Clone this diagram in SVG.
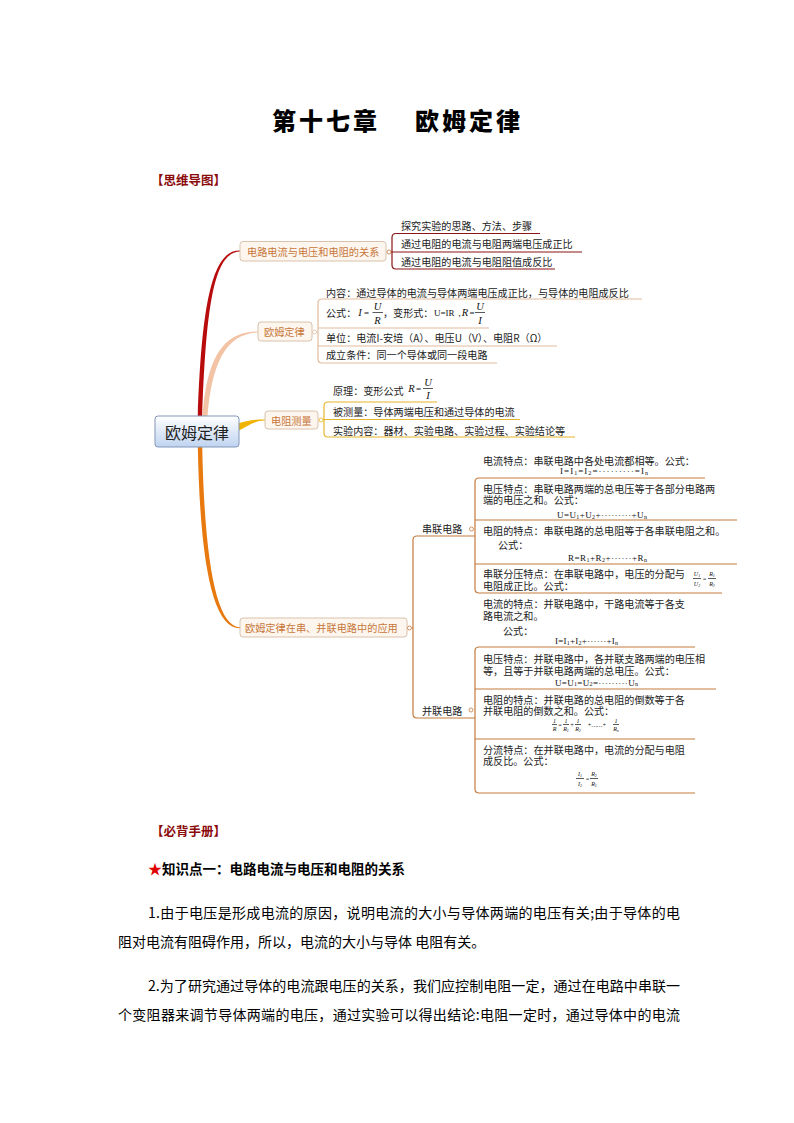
<svg xmlns="http://www.w3.org/2000/svg" width="794" height="1123" viewBox="0 0 794 1123">
<style>
.t{font-family:"Noto Sans CJK SC","Noto Sans",sans-serif;font-size:10.1px;fill:#222;dominant-baseline:central}
.bl{font-family:"Noto Sans CJK SC","Noto Sans",sans-serif;font-size:10.2px;fill:#c8773a;dominant-baseline:central}
.f{font-family:"Liberation Serif",serif;font-size:9px;fill:#111;dominant-baseline:central}
.fi{font-family:"Liberation Serif",serif;font-style:italic;font-size:10.5px;fill:#111;dominant-baseline:central;text-anchor:middle}
.fs{font-family:"Liberation Serif",serif;font-style:italic;font-size:6px;fill:#111;dominant-baseline:central;text-anchor:middle}
.s{font-size:6px}
.box{fill:#fdf6ef;stroke:#d9c2ab;stroke-width:1}
.dot{fill:#fff;stroke-width:0.8}
.br{fill:none;stroke-width:1.2}
.bar{stroke:#111;stroke-width:0.7}
.h{font-family:"Noto Sans CJK SC",sans-serif;font-weight:bold;font-size:12.5px;fill:#8b0a0a;dominant-baseline:central}
.p{font-family:"Noto Sans CJK SC",sans-serif;font-size:14px;fill:#000;dominant-baseline:central}
</style>
<defs>
<linearGradient id="cg" x1="0" y1="0" x2="0" y2="1">
<stop offset="0" stop-color="#ffffff"/>
<stop offset="1" stop-color="#bfd3f0"/>
</linearGradient>
</defs>
<rect width="794" height="1123" fill="#fff"/>

<g id="title">
<text x="272" y="119" font-family="Noto Sans CJK SC,sans-serif" font-weight="900" font-size="24" letter-spacing="3" dominant-baseline="central" fill="#000">第十七章</text>
<text x="415" y="119" font-family="Noto Sans CJK SC,sans-serif" font-weight="900" font-size="24" letter-spacing="3" dominant-baseline="central" fill="#000">欧姆定律</text>
<text class="h" x="151" y="179">【思维导图】</text>
</g>

<g id="connectors">
<path d="M197.8 417 C201.8 300 213 249.8 240 250.5 L240 251.5 C215 252.2 206.2 300 202.2 417 Z" fill="#b80c0c"/>
<path d="M202.5 417 C206.5 358 223 331 258 331.4 L258 332.6 C227 333 211.5 362 207.5 417 Z" fill="#f2c3a4"/>
<path d="M238 423.5 C248 420 254 419.4 265 419.4 L265 420.6 C255 420.6 250 425 238 431 Z" fill="#f0b400"/>
<path d="M197.8 446 C200 560 212 628.5 240 628.2 L240 627.2 C216 626.8 204.5 560 202.2 446 Z" fill="#e8790f"/>
<g stroke="#8b1414" class="br">
<path d="M540 233.5 H396 Q392 233.5 392 237.5 V265 Q392 269 396 269 H555"/>
<path d="M391 252 H582"/>
</g>
<g stroke="#e3bb9e" class="br">
<path d="M642 299 H322 Q318 299 318 303 V359 Q318 363 322 363 H497"/>
<path d="M318 328 H489 M318 346 H557 M317 332 H318"/>
</g>
<g stroke="#e6b62a" class="br">
<path d="M437 402 H328 Q324 402 324 406 V433 Q324 437 328 437 H575"/>
<path d="M324 419.5 H520 M323 420 H324"/>
</g>
<g stroke="#c47a3c" class="br">
<path d="M475 536 H417 Q413 536 413 540 V714 Q413 718 417 718 H475"/>
<path d="M412 628 H413"/>
<path d="M705 478 H479 Q475 478 475 482 V589 Q475 593 479 593 H722"/>
<path d="M475 520 H737 M475 564 H737"/>
<path d="M695 647 H479 Q475 647 475 651 V789 Q475 793 479 793 H695"/>
<path d="M475 689 H716 M475 739 H695"/>
</g>
</g>

<g id="root">
<rect x="155" y="416" width="84" height="31" rx="3" fill="url(#cg)" stroke="#8297b8" stroke-width="1"/>
<text x="197" y="432" text-anchor="middle" font-family="Noto Sans CJK SC,sans-serif" font-size="16" dominant-baseline="central" fill="#222">欧姆定律</text>
</g>

<g id="n-relation">
<rect class="box" x="240" y="241.5" width="146" height="19.5" rx="3"/>
<text class="bl" x="247" y="251.5">电路电流与电压和电阻的关系</text>
<circle class="dot" cx="389" cy="252" r="2" stroke="#c47a3c"/>
<text class="t" x="401" y="225">探究实验的思路、方法、步骤</text>
<text class="t" x="401" y="243">通过电阻的电流与电阻两端电压成正比</text>
<text class="t" x="401" y="261.5">通过电阻的电流与电阻阻值成反比</text>
</g>

<g id="n-law">
<rect class="box" x="258" y="322" width="54" height="19" rx="3"/>
<text class="bl" x="264" y="331.5">欧姆定律</text>
<circle class="dot" cx="314.5" cy="332" r="2" stroke="#e3bb9e"/>
<text class="t" x="326" y="292.5">内容：通过导体的电流与导体两端电压成正比，与导体的电阻成反比</text>
<text class="t" x="326" y="312">公式：</text>
<text class="fi" x="360" y="312.5">I</text>
<text class="f" x="364" y="312.5" font-size="10">=</text>
<text class="fi" x="377.5" y="306.5">U</text>
<line class="bar" x1="372.5" y1="312.5" x2="383" y2="312.5"/>
<text class="fi" x="377.5" y="320.5">R</text>
<text class="t" x="383" y="312" font-size="9">，变形式：</text>
<text class="f" x="434" y="312.5" font-size="7.5">U=IR，</text>
<text class="fi" x="465" y="312.5">R</text>
<text class="f" x="469.5" y="312.5" font-size="10">=</text>
<text class="fi" x="480" y="306.5">U</text>
<line class="bar" x1="475" y1="312.5" x2="485" y2="312.5"/>
<text class="fi" x="480" y="320.5">I</text>
<text class="t" x="326" y="337">单位：电流I-安培（A）、电压U（V）、电阻R（Ω）</text>
<text class="t" x="326" y="354.5">成立条件：同一个导体或同一段电路</text>
</g>

<g id="n-measure">
<rect class="box" x="265" y="411" width="53" height="18" rx="3"/>
<text class="bl" x="271" y="420">电阻测量</text>
<circle class="dot" cx="321" cy="420" r="2" stroke="#e6b62a"/>
<text class="t" x="333" y="390">原理：变形公式</text>
<text class="fi" x="411.5" y="388.5">R</text>
<text class="f" x="416" y="388.5" font-size="10">=</text>
<text class="fi" x="428" y="382.5">U</text>
<line class="bar" x1="423" y1="388.5" x2="433" y2="388.5"/>
<text class="fi" x="428" y="395">I</text>
<text class="t" x="333" y="411.5">被测量：导体两端电压和通过导体的电流</text>
<text class="t" x="333" y="430">实验内容：器材、实验电路、实验过程、实验结论等</text>
</g>

<g id="n-apply">
<rect class="box" x="240" y="618" width="167" height="19" rx="3"/>
<text class="bl" x="245" y="627.5">欧姆定律在串、并联电路中的应用</text>
<circle class="dot" cx="409.5" cy="628" r="2" stroke="#c47a3c"/>
</g>

<g id="n-series">
<text class="t" x="422" y="528.5">串联电路</text>
<circle class="dot" cx="471.5" cy="529" r="2" stroke="#c47a3c"/>
<text class="t" x="483" y="460">电流特点：串联电路中各处电流都相等。公式：</text>
<text class="f" x="560" y="471" textLength="88" lengthAdjust="spacing">I=I<tspan class="s" dy="1.5">1</tspan><tspan dy="-1.5">=I</tspan><tspan class="s" dy="1.5">2</tspan><tspan dy="-1.5">=·········=I</tspan><tspan class="s" dy="1.5">n</tspan></text>
<text class="t" x="483" y="488.5">电压特点：串联电路两端的总电压等于各部分电路两<tspan x="483" dy="10.5">端的电压之和。公式：</tspan></text>
<text class="f" x="557" y="515" textLength="90" lengthAdjust="spacing">U=U<tspan class="s" dy="1.5">1</tspan><tspan dy="-1.5">+U</tspan><tspan class="s" dy="1.5">2</tspan><tspan dy="-1.5">+·········+U</tspan><tspan class="s" dy="1.5">n</tspan></text>
<text class="t" x="483" y="530">电阻的特点：串联电路的总电阻等于各串联电阻之和。<tspan x="498" dy="14">公式：</tspan></text>
<text class="f" x="568" y="558" textLength="79" lengthAdjust="spacing">R=R<tspan class="s" dy="1.5">1</tspan><tspan dy="-1.5">+R</tspan><tspan class="s" dy="1.5">2</tspan><tspan dy="-1.5">+······+R</tspan><tspan class="s" dy="1.5">n</tspan></text>
<text class="t" x="483" y="573.5">串联分压特点：在串联电路中，电压的分配与<tspan x="483" dy="11.5">电阻成正比。公式：</tspan></text>
<text class="fs" x="697" y="574">U<tspan font-size="4" dy="1">1</tspan></text>
<line class="bar" x1="693" y1="578.5" x2="701" y2="578.5" stroke-width="0.5"/>
<text class="fs" x="697" y="583.5">U<tspan font-size="4" dy="1">2</tspan></text>
<text class="fs" x="704.5" y="578.5" font-style="normal">=</text>
<text class="fs" x="712" y="574">R<tspan font-size="4" dy="1">1</tspan></text>
<line class="bar" x1="708" y1="578.5" x2="716" y2="578.5" stroke-width="0.5"/>
<text class="fs" x="712" y="583.5">R<tspan font-size="4" dy="1">2</tspan></text>
</g>

<g id="n-parallel">
<text class="t" x="422" y="710">并联电路</text>
<circle class="dot" cx="471" cy="710" r="2" stroke="#c47a3c"/>
<text class="t" x="483" y="603.5">电流的特点：并联电路中，干路电流等于各支<tspan x="483" dy="11.5">路电流之和。</tspan><tspan x="503" dy="14.5">公式：</tspan></text>
<text class="f" x="555" y="641" textLength="63" lengthAdjust="spacing">I=I<tspan class="s" dy="1.5">1</tspan><tspan dy="-1.5">+I</tspan><tspan class="s" dy="1.5">2</tspan><tspan dy="-1.5">+······+I</tspan><tspan class="s" dy="1.5">n</tspan></text>
<text class="t" x="483" y="658.5">电压特点：并联电路中，各并联支路两端的电压相<tspan x="483" dy="11.5">等，且等于并联电路两端的总电压。公式：</tspan></text>
<text class="f" x="555" y="682.5" textLength="83" lengthAdjust="spacing">U=U<tspan class="s" dy="1.5">1</tspan><tspan dy="-1.5">=U</tspan><tspan class="s" dy="1.5">2</tspan><tspan dy="-1.5">=·········U</tspan><tspan class="s" dy="1.5">n</tspan></text>
<text class="t" x="483" y="699">电阻的特点：并联电路的总电阻的倒数等于各<tspan x="483" dy="11">并联电阻的倒数之和。公式：</tspan></text>
<text class="fs" x="554.5" y="721">1</text>
<line class="bar" x1="552" y1="724.5" x2="557" y2="724.5" stroke-width="0.5"/>
<text class="fs" x="554.5" y="729">R</text>
<text class="fs" x="560" y="724.5" font-style="normal">=</text>
<text class="fs" x="566" y="721">1</text>
<line class="bar" x1="563" y1="724.5" x2="569" y2="724.5" stroke-width="0.5"/>
<text class="fs" x="566" y="729">R<tspan font-size="4" dy="1">1</tspan></text>
<text class="fs" x="572" y="724.5" font-style="normal">+</text>
<text class="fs" x="578" y="721">1</text>
<line class="bar" x1="575" y1="724.5" x2="581" y2="724.5" stroke-width="0.5"/>
<text class="fs" x="578" y="729">R<tspan font-size="4" dy="1">2</tspan></text>
<text class="fs" x="597" y="724.5" font-style="normal">+……+</text>
<text class="fs" x="616" y="721">1</text>
<line class="bar" x1="613" y1="724.5" x2="619" y2="724.5" stroke-width="0.5"/>
<text class="fs" x="616" y="729">R<tspan font-size="4" dy="1">n</tspan></text>
<text class="t" x="483" y="749">分流特点：在并联电路中，电流的分配与电阻<tspan x="483" dy="11">成反比。公式：</tspan></text>
<text class="fs" x="580" y="774">I<tspan font-size="4" dy="1">1</tspan></text>
<line class="bar" x1="576" y1="778.5" x2="584" y2="778.5" stroke-width="0.5"/>
<text class="fs" x="580" y="784">I<tspan font-size="4" dy="1">2</tspan></text>
<text class="fs" x="587.5" y="778.5" font-style="normal">=</text>
<text class="fs" x="594" y="774">R<tspan font-size="4" dy="1">2</tspan></text>
<line class="bar" x1="590" y1="778.5" x2="598" y2="778.5" stroke-width="0.5"/>
<text class="fs" x="594" y="784">R<tspan font-size="4" dy="1">1</tspan></text>
</g>

<g id="handbook">
<text class="h" x="151" y="830">【必背手册】</text>
<text x="148" y="868" font-family="Noto Sans CJK SC,sans-serif" font-size="14" dominant-baseline="central" fill="#e00000">★</text>
<text x="162" y="868" font-family="Noto Sans CJK SC,sans-serif" font-weight="bold" font-size="13.5" dominant-baseline="central" fill="#000">知识点一：电路电流与电压和电阻的关系</text>
<text class="p" x="148" y="912" textLength="532" lengthAdjust="spacing">1.由于电压是形成电流的原因，说明电流的大小与导体两端的电压有关;由于导体的电</text>
<text class="p" x="118" y="941">阻对电流有阻碍作用，所以，电流的大小与导体 电阻有关。</text>
<text class="p" x="148" y="985" textLength="532" lengthAdjust="spacing">2.为了研究通过导体的电流跟电压的关系，我们应控制电阻一定，通过在电路中串联一</text>
<text class="p" x="118" y="1014" textLength="562" lengthAdjust="spacing">个变阻器来调节导体两端的电压，通过实验可以得出结论:电阻一定时，通过导体中的电流</text>
</g>
</svg>
